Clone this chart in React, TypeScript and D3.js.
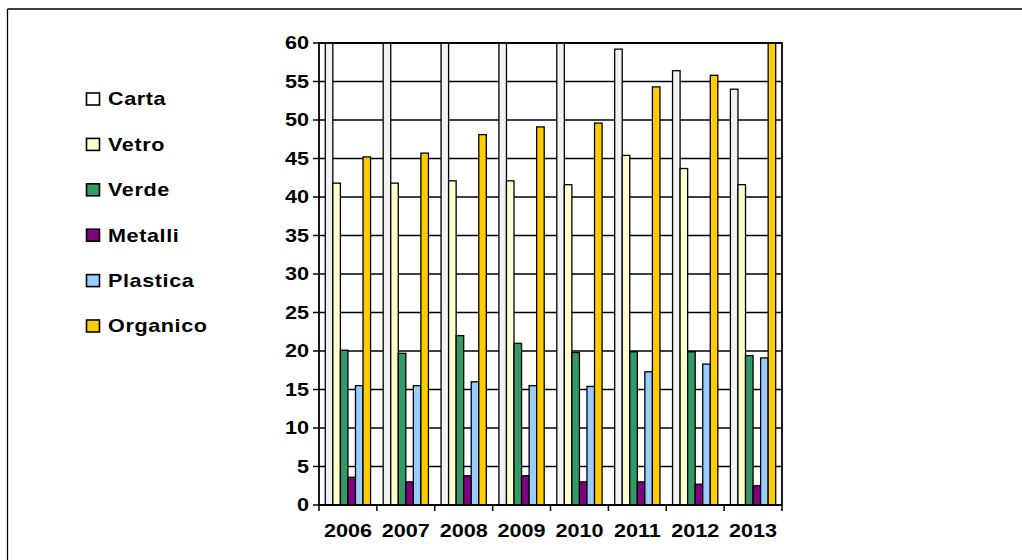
import React from "react";
import * as d3 from "d3";

const years = ["2006", "2007", "2008", "2009", "2010", "2011", "2012", "2013"];
const seriesNames = ["Carta", "Vetro", "Verde", "Metalli", "Plastica", "Organico"];
const seriesColors = ["#f2f2f2", "#ffffcc", "#339966", "#800080", "#99ccff", "#ffcc00"];

// Carta 2006-2010 and Organico 2013 run past the 60 top of the axis and are clipped there
const carta = [63, 62, 64, 63, 62, 59.2, 56.4, 54.0];
const vetro = [41.8, 41.8, 42.1, 42.1, 41.6, 45.4, 43.7, 41.6];
const verde = [20.1, 19.7, 22.0, 21.0, 19.8, 19.9, 19.9, 19.4];
const metalli = [3.6, 3.0, 3.8, 3.8, 3.0, 3.0, 2.7, 2.5];
const plastica = [15.5, 15.5, 16.0, 15.5, 15.4, 17.3, 18.3, 19.1];
const organico = [45.2, 45.7, 48.1, 49.1, 49.6, 54.3, 55.8, 61];

const seriesValues = [carta, vetro, verde, metalli, plastica, organico];
const yTicks = [0, 5, 10, 15, 20, 25, 30, 35, 40, 45, 50, 55, 60];

const W = 1022;
const H = 560;
const plot = { left: 319, right: 782, top: 43, bottom: 505 };
const font = "'Liberation Sans', Arial, sans-serif";
const stretch = "scale(1.2,1)";

export default function App() {
  const x0 = d3.scaleBand<string>().domain(years).range([plot.left, plot.right]);
  const pad = 6.3;
  const x1 = d3
    .scaleBand<string>()
    .domain(seriesNames)
    .range([pad, x0.bandwidth() - pad]);
  const y = d3.scaleLinear().domain([0, 60]).range([plot.bottom, plot.top]);

  const legendY = d3
    .scalePoint<string>()
    .domain(seriesNames)
    .range([99, 326]);

  return (
    <svg
      width={W}
      height={H}
      style={{ position: "absolute", left: 0, top: 0, display: "block", background: "#fff" }}
    >
      {/* outer frame, only top and left edges are visible */}
      <line x1={7.5} y1={9} x2={W} y2={9} stroke="#000" strokeWidth={1.3} />
      <line x1={7.5} y1={9} x2={7.5} y2={H} stroke="#000" strokeWidth={1.3} />

      <defs>
        <clipPath id="plotClip">
          <rect x={plot.left} y={plot.top} width={plot.right - plot.left} height={plot.bottom - plot.top} />
        </clipPath>
      </defs>

      {/* gridlines */}
      {yTicks.map((t) => (
        <line
          key={"g" + t}
          x1={plot.left}
          x2={plot.right}
          y1={y(t)}
          y2={y(t)}
          stroke="#000"
          strokeWidth={1.6}
        />
      ))}

      {/* bars */}
      <g clipPath="url(#plotClip)">
        {years.map((yr, i) => (
          <g key={yr} transform={`translate(${x0(yr)},0)`}>
            {seriesNames.map((s, j) => {
              const v = seriesValues[j][i];
              return (
                <rect
                  key={s}
                  x={x1(s)}
                  y={y(v)}
                  width={x1.bandwidth()}
                  height={y(0) - y(v)}
                  fill={seriesColors[j]}
                  stroke="#000"
                  strokeWidth={1.3}
                />
              );
            })}
          </g>
        ))}
      </g>

      {/* plot border */}
      <rect
        x={plot.left}
        y={plot.top}
        width={plot.right - plot.left}
        height={plot.bottom - plot.top}
        fill="none"
        stroke="#000"
        strokeWidth={1.8}
      />

      {/* y axis */}
      {yTicks.map((t) => (
        <g key={"y" + t}>
          <line x1={plot.left - 6} x2={plot.left} y1={y(t)} y2={y(t)} stroke="#000" strokeWidth={1.5} />
          <text
            transform={`translate(${plot.left - 10},${y(t) + 6.4}) ${stretch}`}
            textAnchor="end"
            fontFamily={font}
            fontWeight="bold"
            fontSize={18}
          >
            {t}
          </text>
        </g>
      ))}

      {/* x axis ticks at category boundaries */}
      {years.concat(["end"]).map((yr, i) => {
        const xx = plot.left + i * x0.bandwidth();
        return (
          <line key={"xt" + i} x1={xx} x2={xx} y1={plot.bottom} y2={plot.bottom + 6} stroke="#000" strokeWidth={1.5} />
        );
      })}
      {years.map((yr) => (
        <text
          key={"xl" + yr}
          transform={`translate(${(x0(yr) as number) + x0.bandwidth() / 2},${536.5}) ${stretch}`}
          textAnchor="middle"
          fontFamily={font}
          fontWeight="bold"
          fontSize={18}
        >
          {yr}
        </text>
      ))}

      {/* legend */}
      {seriesNames.map((s, j) => {
        const cy = legendY(s) as number;
        return (
          <g key={"lg" + s}>
            <rect x={86.5} y={cy - 6} width={13} height={12} fill={seriesColors[j] === "#f2f2f2" ? "#fff" : seriesColors[j]} stroke="#000" strokeWidth={1.6} />
            <text
              transform={`translate(${108},${cy + 6.4}) ${stretch}`}
              fontFamily={font}
              fontWeight="bold"
              fontSize={18}
              letterSpacing={0.5}
            >
              {s}
            </text>
          </g>
        );
      })}
    </svg>
  );
}
